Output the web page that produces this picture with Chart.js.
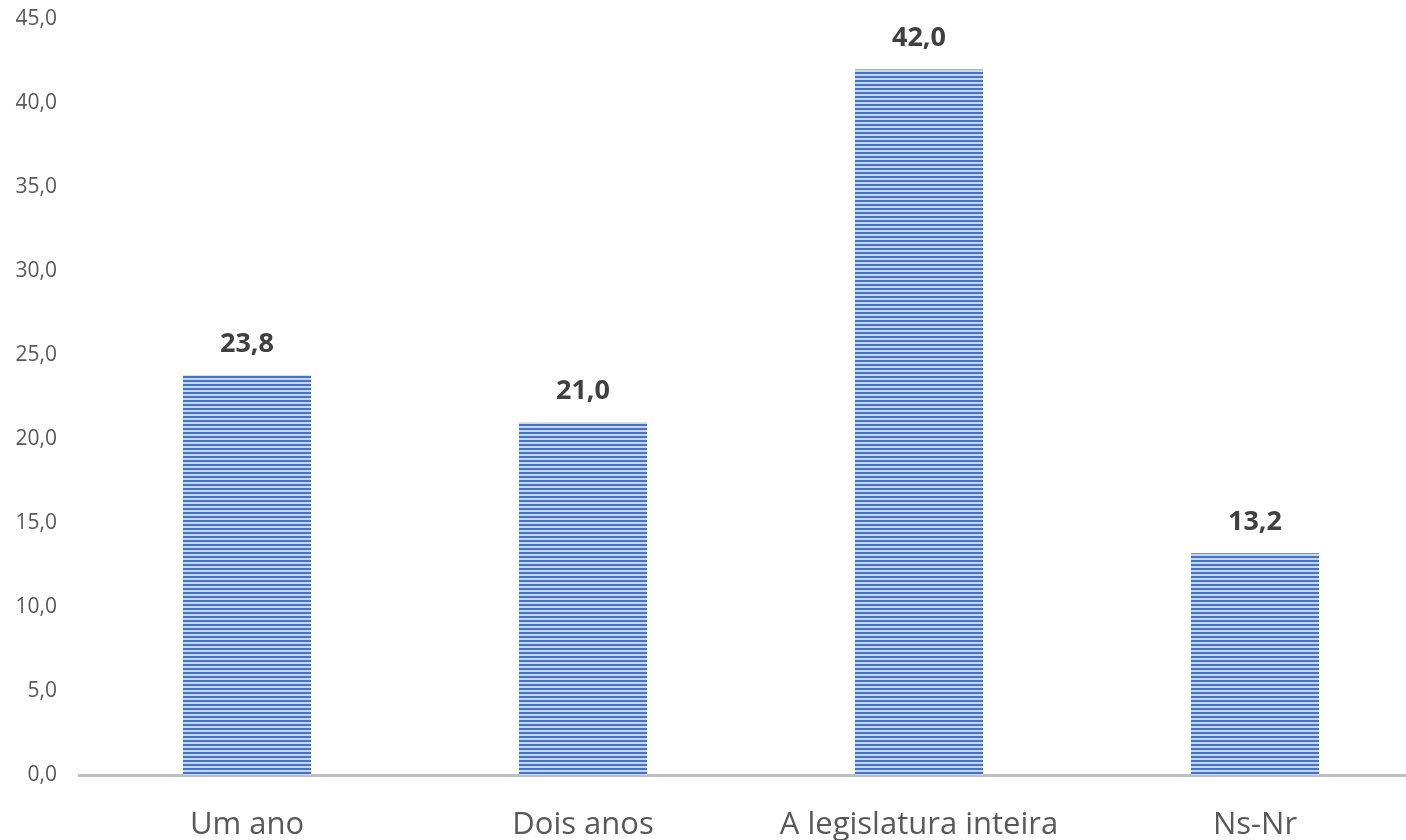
<!DOCTYPE html>
<html>
<head>
<meta charset="utf-8">
<script src="https://cdn.jsdelivr.net/npm/chart.js@4/dist/chart.umd.min.js"></script>
<style>
    html, body { margin: 0; padding: 0; background: #fff; overflow: hidden; }
    #wrap { width: 1423px; height: 840px; }
</style>
</head>
<body>
<div id="wrap"><canvas id="myChart" width="1423" height="840"></canvas></div>
<script>
// dados do gráfico
var categorias = ['Um ano', 'Dois anos', 'A legislatura inteira', 'Ns-Nr'];
var valores = [23.8, 21.0, 42.0, 13.2];
var yMin = 0;
var yMax = 45;
var yPasso = 5;

var fonte = "'Open Sans', sans-serif";

// formata com virgula decimal
var fmt = function (v) {
    return Number(v).toFixed(1).replace('.', ',');
}

// padrao de listras horizontais
var listras = function () {
    var c = document.createElement('canvas');
    c.width = 4;
    c.height = 4;
    var g = c.getContext('2d');
    g.fillStyle = '#c9d6ee';
    g.fillRect(0, 0, 4, 4);
    g.fillStyle = '#4472c4';
    g.fillRect(0, 0, 4, 2);
    return g.createPattern(c, 'repeat');
}

// rotulos em cima das barras
var rotulos = {
    id: 'rotulos',
    afterDatasetsDraw: function (chart) {
        var ctx = chart.ctx;
        var meta = chart.getDatasetMeta(0);
        ctx.save();
        ctx.font = 'bold 27px ' + fonte;
        ctx.fillStyle = '#404040';
        ctx.textAlign = 'center';
        ctx.textBaseline = 'middle';
        meta.data.forEach(function (bar, i) {
            ctx.fillText(fmt(valores[i]), bar.x, bar.y - 31);
        });
        ctx.restore();
    }
}

const ctx = document.getElementById('myChart').getContext('2d');
const myChart = new Chart(ctx, {
    type: 'bar',
    data: {
        labels: categorias,
        datasets: [{
            data: valores,
            backgroundColor: listras(),
            borderWidth: 0,
            categoryPercentage: 1,
            barPercentage: 0.381
        }]
    },
    options: {
        responsive: false,
        animation: false,
        layout: { padding: { top: 19, right: 0, bottom: 0, left: 0 } },
        plugins: {
            legend: { display: false },
            tooltip: { enabled: false }
        },
        scales: {
            x: {
                grid: { display: false, drawTicks: false },
                border: { display: true, color: '#bfbfbf', width: 3 },
                ticks: {
                    color: '#595959',
                    font: { family: fonte, size: 31 },
                    padding: 32,
                    maxRotation: 0
                },
                afterFit: function (scale) {
                    scale.height = 65;
                    scale.paddingLeft = 0;
                    scale.paddingRight = 0;
                }
            },
            y: {
                min: yMin,
                max: yMax,
                grid: { display: false, drawTicks: false },
                border: { display: false },
                ticks: {
                    stepSize: yPasso,
                    color: '#595959',
                    font: { family: fonte, size: 21 },
                    padding: 22,
                    callback: function (v) { return fmt(v); }
                },
                afterFit: function (scale) {
                    scale.width = 79;
                    scale.paddingTop = 0;
                    scale.paddingBottom = 0;
                }
            }
        }
    },
    plugins: [rotulos]
});
</script>
</body>
</html>
